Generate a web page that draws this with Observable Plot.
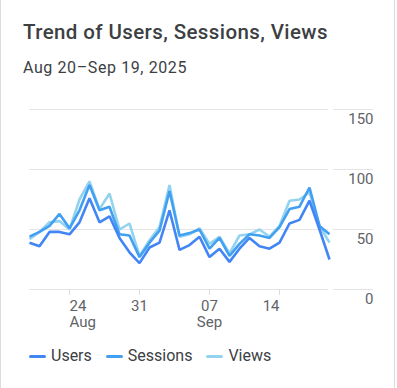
<!DOCTYPE html>
<html><head><meta charset="utf-8">
<script src="https://cdn.jsdelivr.net/npm/d3@7"></script>
<script src="https://cdn.jsdelivr.net/npm/@observablehq/plot@0.6"></script>
<style>
body{margin:0;background:#fff;font-family:Roboto,sans-serif;}
#card{position:relative;width:397px;height:388px;overflow:hidden;background:#fff;}
#border{position:absolute;left:0;top:0;width:395px;height:388px;box-sizing:border-box;border-left:1px solid #dadce0;border-right:1px solid #dadce0;}
#title{position:absolute;left:23px;top:22px;font-size:20.5px;line-height:20px;letter-spacing:0.4px;font-weight:500;color:#3c4043;white-space:nowrap;}
#subtitle{position:absolute;left:23px;top:59.5px;font-size:16px;line-height:16px;letter-spacing:0.6px;color:#3c4043;white-space:nowrap;}
#chart{position:absolute;left:0;top:100px;}
#legend{position:absolute;left:29px;top:348px;display:flex;align-items:center;font-size:16px;line-height:16px;color:#3c4043;white-space:nowrap;}
.item{display:flex;align-items:center;margin-right:14px;}
.sw{width:17px;height:3px;border-radius:2px;margin-right:5px;margin-top:1px;}
</style></head>
<body>
<div id="card">
  <div id="border"></div>
  <div id="title">Trend of Users, Sessions, Views</div>
  <div id="subtitle">Aug 20–Sep 19, 2025</div>
  <div id="chart"></div>
  <div id="legend"></div>
</div>
<script>
const seriesNames = ["Users", "Sessions", "Views"];
const seriesColors = ["#4285f4", "#42a0f2", "#93d3ef"];
const users    = [39,36,48,48,46,56,76,56,61,43,31,22,35,39,66,33,37,44,27,34,23,34,43,36,34,39,55,58,74,50,25];
const sessions = [44,48,53,63,51,66,87,66,69,46,45,27,39,49,82,45,47,50,34,43,28,38,46,45,43,52,67,69,85,53,46];
const views    = [42,48,56,57,50,75,90,67,80,50,55,28,41,52,87,44,46,51,38,44,30,45,46,50,44,53,74,75,81,53,39];
const dates = d3.utcDay.range(new Date(Date.UTC(2025,7,20)), new Date(Date.UTC(2025,8,20)));
const xTickDates = ["2025-08-24","2025-08-31","2025-09-07","2025-09-14"].map(s => new Date(s + "T00:00:00Z"));
const xTickLabels = ["24\nAug","31","07\nSep","14"];
const yTicks = [0, 50, 100, 150];

const valuesBySeries = {Users: users, Sessions: sessions, Views: views};
const drawOrder = ["Views", "Sessions", "Users"];
const rows = drawOrder.flatMap(s => valuesBySeries[s].map((v, i) => ({series: s, date: dates[i], value: v})));
const xTickData = xTickDates.map((d, i) => ({date: d, label: xTickLabels[i]}));

const W = 397, H = 240, mL = 29, mR = 24, mT = 9, mB = 51, labelGap = 44;
const grid = "#e4e4e4", tickCol = "#5f6368";
const textOpts = {fontSize: 15, fill: tickCol, lineAnchor: "top", frameAnchor: "bottom", dy: 9, lineHeight: 1.13, x: "date", text: "label"};

const chart = Plot.plot({
  width: W, height: H,
  marginLeft: mL, marginRight: mR, marginTop: mT, marginBottom: mB,
  style: {fontFamily: "Roboto, sans-serif", fontSize: "15px", background: "transparent"},
  x: {type: "utc", domain: [dates[0], dates[dates.length - 1]], range: [mL, W - mR - labelGap], axis: null},
  y: {domain: [0, 150], axis: null},
  color: {domain: seriesNames, range: seriesColors},
  marks: [
    Plot.ruleY(yTicks, {stroke: grid, insetRight: labelGap + 1}),
    Plot.ruleY(yTicks, {stroke: grid, insetLeft: W - mL - mR - labelGap + 4}),
    Plot.tickX(xTickDates, {x: d => d, stroke: "#dadce0", insetTop: H - mT - mB, insetBottom: -6}),
    Plot.text(xTickData.slice(0, 1), {...textOpts, textAnchor: "start"}),
    Plot.text(xTickData.slice(1, 3), {...textOpts, textAnchor: "middle"}),
    Plot.text(xTickData.slice(3), {...textOpts, textAnchor: "end"}),
    Plot.text(yTicks, {y: d => d, text: d => String(d), frameAnchor: "right", textAnchor: "end", dy: 10, fontSize: 15, fill: tickCol}),
    Plot.line(rows, {x: "date", y: "value", z: "series", stroke: "series", strokeWidth: 2.6, strokeLinejoin: "miter", strokeLinecap: "butt"})
  ]
});
document.getElementById("chart").appendChild(chart);

const legend = document.getElementById("legend");
seriesNames.forEach((name, i) => {
  const item = document.createElement("div");
  item.className = "item";
  const sw = document.createElement("span");
  sw.className = "sw";
  sw.style.background = seriesColors[i];
  const t = document.createElement("span");
  t.textContent = name;
  item.appendChild(sw); item.appendChild(t);
  legend.appendChild(item);
});
</script>
</body></html>
